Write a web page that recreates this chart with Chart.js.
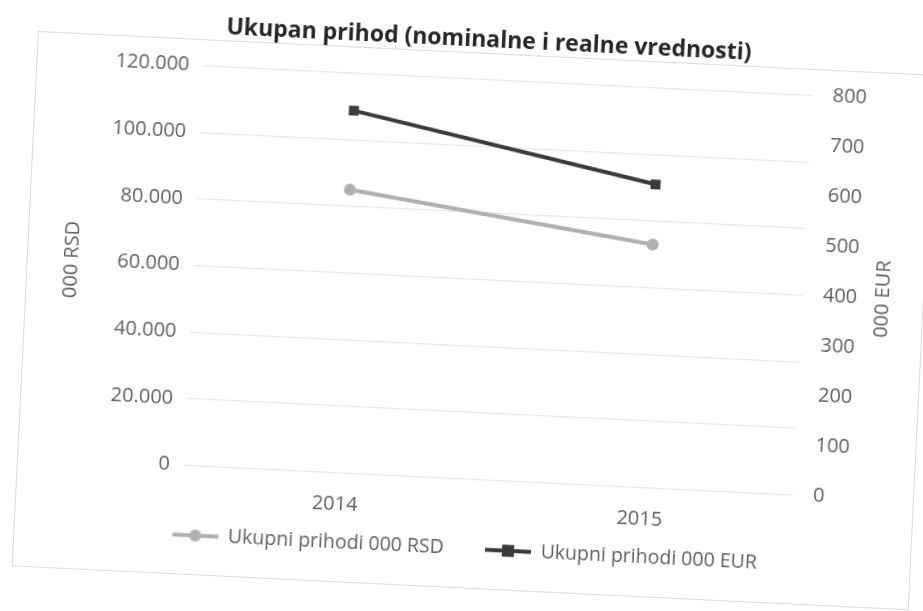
<!DOCTYPE html>
<html>
<head>
<meta charset="utf-8">
<script src="https://cdn.jsdelivr.net/npm/chart.js@4"></script>
<style>
    html, body { margin: 0; padding: 0; background: #fff; overflow: hidden; }
    /* skenirana strana je blago nakrivljena */
    #wrap {
        position: relative;
        width: 923px; height: 611px;
        transform: rotate(2.8deg);
        transform-origin: 461px 305px;
    }
    #frame {
        position: absolute;
        left: 25px; top: 52px; width: 898px; height: 536px;
        border: 1.5px solid #dadada;
        box-sizing: border-box;
    }
    canvas { position: absolute; left: 0; top: 0; }
</style>
</head>
<body>
<div id="wrap">
    <div id="frame"></div>
    <canvas id="revChart" width="923" height="611"></canvas>
</div>
<script>
// --- Podaci ---
const years = ['2014', '2015'];
const rsdValues = [85000, 73000];   // Ukupni prihodi 000 RSD
const eurValues = [725, 607];       // Ukupni prihodi 000 EUR
const rsdLabel = 'Ukupni prihodi 000 RSD';
const eurLabel = 'Ukupni prihodi 000 EUR';

const RSD_COLOR = '#b0b0b0';
const EUR_COLOR = '#3a3a3a';
const TEXT_COLOR = '#5f5f5f';
const FONT = "'Open Sans', 'Noto Sans', sans-serif";
const FS = 20;

// mala ikonica za legendu: linija + marker (kao u Excel-u)
// levo ostaje malo praznog prostora, da bi stavke legende bile razmaknute
const ICON_GAP = 16;
function legendIcon(color, style) {
    const c = document.createElement('canvas');
    c.width = ICON_GAP + 46; c.height = 16;
    const g = c.getContext('2d');
    const x0 = ICON_GAP;
    g.strokeStyle = color;
    g.lineWidth = 4;
    g.beginPath(); g.moveTo(x0, 8); g.lineTo(x0 + 46, 8); g.stroke();
    g.fillStyle = color;
    if (style === 'circle') {
        g.beginPath(); g.arc(x0 + 23, 8, 6, 0, Math.PI * 2); g.fill();
    } else {
        g.fillRect(x0 + 17, 2, 12, 12);
    }
    return c;
}

const fmt = v => v.toLocaleString('de-DE');

// naslov desne ose (Chart.js ga okrece na drugu stranu, pa ga crtamo sami)
const rightTitle = {
    id: 'rightTitle',
    afterDraw(chart) {
        const s = chart.scales.y1;
        const ctx = chart.ctx;
        ctx.save();
        ctx.translate(chart.width - 41, (s.top + s.bottom) / 2);
        ctx.rotate(-Math.PI / 2);
        ctx.fillStyle = TEXT_COLOR;
        ctx.font = FS + 'px ' + FONT;
        ctx.textAlign = 'center';
        ctx.textBaseline = 'middle';
        ctx.fillText('000 EUR', 0, 0);
        ctx.restore();
    }
};

new Chart(document.getElementById('revChart'), {
    type: 'line',
    data: {
        labels: years,
        datasets: [
            {
                label: rsdLabel,
                data: rsdValues,
                yAxisID: 'y',
                borderColor: RSD_COLOR,
                backgroundColor: RSD_COLOR,
                borderWidth: 4,
                pointStyle: 'circle',
                pointRadius: 6,
                pointBorderWidth: 0,
                legendIcon: legendIcon(RSD_COLOR, 'circle')
            },
            {
                label: eurLabel,
                data: eurValues,
                yAxisID: 'y1',
                borderColor: EUR_COLOR,
                backgroundColor: EUR_COLOR,
                borderWidth: 4,
                pointStyle: 'rect',
                pointRadius: 7,
                pointBorderWidth: 0,
                legendIcon: legendIcon(EUR_COLOR, 'rect')
            }
        ]
    },
    options: {
        responsive: false,
        animation: false,
        layout: { padding: { top: 26, left: 58, right: 29, bottom: 43 } },
        plugins: {
            title: {
                display: true,
                text: 'Ukupan prihod (nominalne i realne vrednosti)',
                color: '#262626',
                font: { family: FONT, size: 23, weight: 'bold' },
                padding: { top: 0, bottom: 25 }
            },
            legend: {
                position: 'bottom',
                labels: {
                    color: TEXT_COLOR,
                    font: { family: FONT, size: 19.5 },
                    usePointStyle: true,
                    pointStyleWidth: ICON_GAP + 46,
                    padding: 10,
                    // razmak posle teksta da bi razmak izmedju stavki bio kao u originalu
                    generateLabels: chart => chart.data.datasets.map((ds, i) => ({
                        text: ds.label + '   ',
                        pointStyle: ds.legendIcon,
                        fontColor: TEXT_COLOR,
                        lineWidth: 0,
                        datasetIndex: i
                    }))
                }
            },
            tooltip: { enabled: false }
        },
        scales: {
            x: {
                offset: true,
                grid: { display: false, drawTicks: false },
                border: { display: false },
                ticks: { color: TEXT_COLOR, font: { family: FONT, size: FS }, padding: 20 },
                afterFit: s => { s.height = 50; }
            },
            y: {
                position: 'left',
                min: 0, max: 120000,
                ticks: {
                    stepSize: 20000,
                    color: TEXT_COLOR,
                    font: { family: FONT, size: FS },
                    padding: 14,
                    callback: v => fmt(v)
                },
                grid: { color: '#e8e8e8', lineWidth: 1.2, drawTicks: false },
                border: { display: false },
                title: {
                    display: true, text: '000 RSD', color: TEXT_COLOR,
                    font: { family: FONT, size: FS }, padding: 0
                },
                afterFit: s => { s.width = 134; }
            },
            y1: {
                position: 'right',
                min: 0, max: 800,
                ticks: {
                    stepSize: 100,
                    color: TEXT_COLOR,
                    font: { family: FONT, size: FS },
                    padding: 20
                },
                grid: { display: false, drawTicks: false },
                border: { display: false },
                afterFit: s => { s.width = 92; }
            }
        }
    },
    plugins: [rightTitle]
});
</script>
</body>
</html>
